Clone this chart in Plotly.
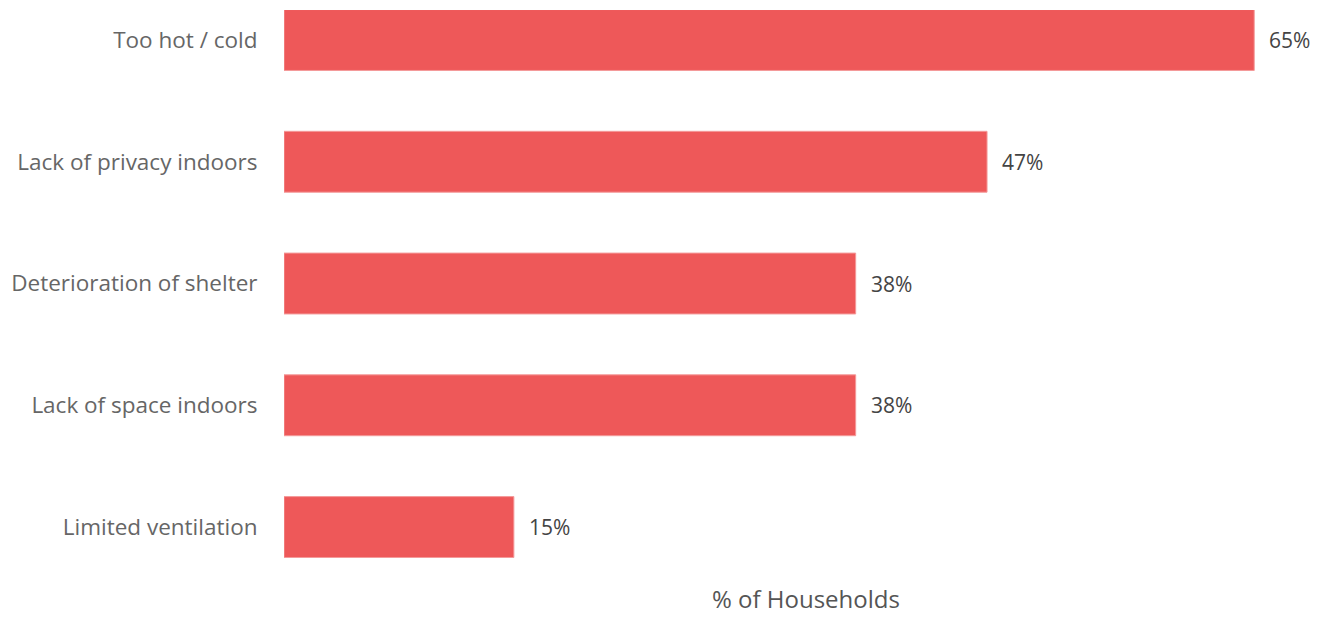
import plotly.graph_objects as go

categories = ["Too hot / cold", "Lack of privacy indoors", "Deterioration of shelter",
              "Lack of space indoors", "Limited ventilation"]
values = [65.0, 47.1, 38.3, 38.3, 15.4]
labels = ["65%", "47%", "38%", "38%", "15%"]

# the page body adds an 8px margin on every side; keep the page within the window
W, H = 1303, 607
left, right, top, bottom = 276, 12, 2, 35
xmax = 68.0
FONT = "Open Sans, Noto Sans, sans-serif"

fig = go.Figure(go.Bar(
    y=categories, x=values, orientation="h",
    marker=dict(color="#EE5859", line=dict(color="#F49A9A", width=1)),
    width=0.5,
    hoverinfo="skip",
))

annotations = [dict(x=v, y=c, text=t, xref="x", yref="y", xanchor="left", yanchor="middle",
                    xshift=13, showarrow=False, font=dict(size=21, color="#444444"))
               for c, v, t in zip(categories, values, labels)]

plot_w = W - left - right
plot_h = H - top - bottom
annotations.append(dict(text="% of Households", xref="paper", yref="paper",
                        x=(798 - left) / plot_w, y=-(bottom + 2) / plot_h,
                        xanchor="center", yanchor="bottom", showarrow=False,
                        font=dict(size=24, color="#555555")))

fig.update_layout(
    width=W, height=H,
    margin=dict(l=left, r=right, t=top, b=bottom, pad=0),
    paper_bgcolor="white", plot_bgcolor="white",
    showlegend=False,
    font=dict(family=FONT, size=22, color="#666666"),
    xaxis=dict(range=[0, xmax], showgrid=False, zeroline=False, showticklabels=False,
               showline=False, ticks=""),
    yaxis=dict(type="category", range=[4.435, -0.2464], showgrid=False, zeroline=False,
               showline=False, ticks="outside", ticklen=21, tickcolor="rgba(0,0,0,0)",
               tickfont=dict(size=22.5, color="#666666")),
    annotations=annotations,
)

fig.write_html("out.html")
